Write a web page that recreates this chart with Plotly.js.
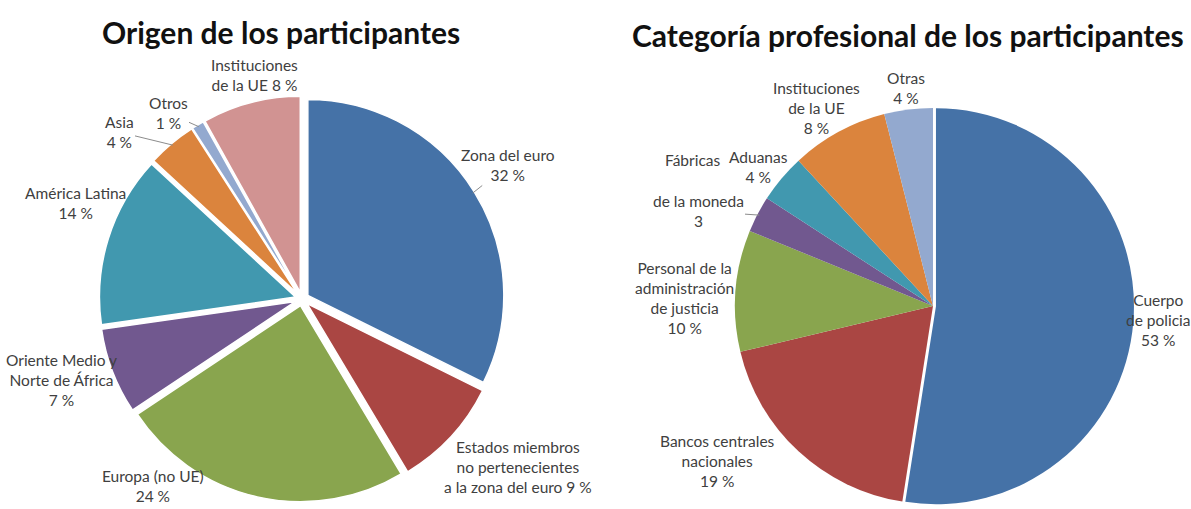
<!DOCTYPE html>
<html><head><meta charset="utf-8">
<script src="https://cdn.plot.ly/plotly-3.0.1.min.js"></script>
<style>html,body{margin:0;padding:0;background:#fff}#chart{width:1191px;height:509px}</style>
</head><body><div id="chart"></div>
<script>
// ---- data ----
const origenTitle = 'Origen de los participantes';
const origenCategories = ['Zona del euro', 'Estados miembros no pertenecientes a la zona del euro', 'Europa (no UE)', 'Oriente Medio y Norte de África', 'América Latina', 'Asia', 'Otros', 'Instituciones de la UE'];
const origenValues = [32, 9, 24, 7, 14, 4, 1, 8];
const origenLabels = ['Zona del euro<br>', 'Estados miembros<br>no pertenecientes<br>a la zona del euro ', 'Europa (no UE)<br>', 'Oriente Medio y<br>Norte de África<br>', 'América Latina<br>', 'Asia<br>', 'Otros<br>', 'Instituciones<br>de la UE '];
const origenSuffix = [' %', ' %', ' %', ' %', ' %', ' %', ' %', ' %'];

const categoriaTitle = 'Categoría profesional de los participantes';
const categoriaCategories = ['Cuerpo de policía', 'Bancos centrales nacionales', 'Personal de la administración de justicia', 'Fábricas de la moneda', 'Aduanas', 'Instituciones de la UE', 'Otras'];
const categoriaValues = [53, 19, 10, 3, 4, 8, 4];
const categoriaLabels = ['Cuerpo<br>de policia<br>', 'Bancos centrales<br>nacionales<br>', 'Personal de la<br>administración<br>de justicia<br>', 'de la moneda<br>', 'Aduanas<br>', 'Instituciones<br>de la UE<br>', 'Otras<br>'];
const categoriaSuffix = [' %', ' %', ' %', '', ' %', ' %', ' %'];
const categoriaExtraLabel = 'Fábricas';

// ---- style / layout ----
const W = 1191, H = 509;
const colors = ['#4572A7', '#AA4643', '#89A54E', '#71588F', '#4198AF', '#DB843D', '#93A9CF', '#D19392'];
const labelFont = {family: 'Lato, "Open Sans", sans-serif', size: 15.5, color: '#404040'};
const titleFont = {family: 'Lato, "Open Sans", sans-serif', size: 30, color: '#111111', weight: 700};

const leftPie = {cx: 302, cy: 299, r: 196, pull: 0.035};
const rightPie = {cx: 933, cy: 306, r: 198, pull: 0.015};

const leftLabelPos = [[508,165],[518,467],[153,486],[62,380],[75,203],[119,132],[168,113],[255,75]];
const leftLeader = [true, false, false, false, false, true, true, false];
const rightLabelPos = [[1158,320],[717,461],[685,298],[698,211],[758,167],[816,108],[906,88]];
const rightLeader = [false, false, false, true, false, false, false];
const rightExtraPos = [693, 160];

function domainFor(p, maxPull) {
  const half = p.r * (1 + maxPull);
  return {x: [(p.cx - half) / W, (p.cx + half) / W], y: [(H - p.cy - half) / H, (H - p.cy + half) / H]};
}

function midAngles(vals) {
  const tot = vals.reduce((a, b) => a + b, 0);
  let c = 0; const out = [];
  vals.forEach(v => { out.push((c + v / 2) / tot * 2 * Math.PI); c += v; });
  return out;
}

function labelAnnotations(vals, labels, suffix, pos, leader, p, pulls) {
  const ang = midAngles(vals);
  return vals.map((v, i) => {
    const text = labels[i] + v + suffix[i];
    const base = {text: text, font: labelFont, xref: 'paper', yref: 'paper', align: 'center'};
    if (leader[i]) {
      const R = p.r * (1 + pulls[i]) * 0.99;
      const tx = p.cx + R * Math.sin(ang[i]);
      const ty = p.cy - R * Math.cos(ang[i]);
      return Object.assign(base, {x: tx / W, y: 1 - ty / H, showarrow: true, arrowhead: 0, arrowwidth: 1,
        arrowcolor: '#8c8c8c', axref: 'pixel', ayref: 'pixel', ax: pos[i][0] - tx, ay: pos[i][1] - ty, standoff: 0, startstandoff: 0});
    }
    return Object.assign(base, {x: pos[i][0] / W, y: 1 - pos[i][1] / H, xanchor: 'center', yanchor: 'middle', showarrow: false});
  });
}

const leftPulls = origenValues.map(() => leftPie.pull);
const rightPulls = categoriaValues.map((v, i) => i === 0 ? rightPie.pull : 0);

const traces = [
  {type: 'pie', labels: origenCategories, values: origenValues, sort: false, direction: 'clockwise', rotation: 0,
   pull: leftPulls, textinfo: 'none', hoverinfo: 'label+value', showlegend: false,
   marker: {colors: colors.slice(0, origenValues.length), line: {color: '#ffffff', width: 1.5}},
   domain: domainFor(leftPie, leftPie.pull)},
  {type: 'pie', labels: categoriaCategories, values: categoriaValues, sort: false, direction: 'clockwise', rotation: 0,
   pull: rightPulls, textinfo: 'none', hoverinfo: 'label+value', showlegend: false,
   marker: {colors: colors.slice(0, categoriaValues.length), line: {color: '#ffffff', width: 0}},
   domain: domainFor(rightPie, rightPie.pull)}
];

const annotations = []
  .concat(labelAnnotations(origenValues, origenLabels, origenSuffix, leftLabelPos, leftLeader, leftPie, leftPulls))
  .concat(labelAnnotations(categoriaValues, categoriaLabels, categoriaSuffix, rightLabelPos, rightLeader, rightPie, rightPulls))
  .concat([
    {text: categoriaExtraLabel, font: labelFont, xref: 'paper', yref: 'paper', x: rightExtraPos[0] / W, y: 1 - rightExtraPos[1] / H, xanchor: 'center', yanchor: 'middle', showarrow: false},
    {text: '<b>' + origenTitle + '</b>', font: titleFont, xref: 'paper', yref: 'paper', x: 281 / W, y: 1 - 32 / H, xanchor: 'center', yanchor: 'middle', showarrow: false},
    {text: '<b>' + categoriaTitle + '</b>', font: titleFont, xref: 'paper', yref: 'paper', x: 908 / W, y: 1 - 35 / H, xanchor: 'center', yanchor: 'middle', showarrow: false}
  ]);

const layout = {width: W, height: H, margin: {l: 0, r: 0, t: 0, b: 0}, paper_bgcolor: '#ffffff', plot_bgcolor: '#ffffff',
  annotations: annotations, showlegend: false};

Plotly.newPlot('chart', traces, layout, {displayModeBar: false, staticPlot: true});
</script></body></html>
